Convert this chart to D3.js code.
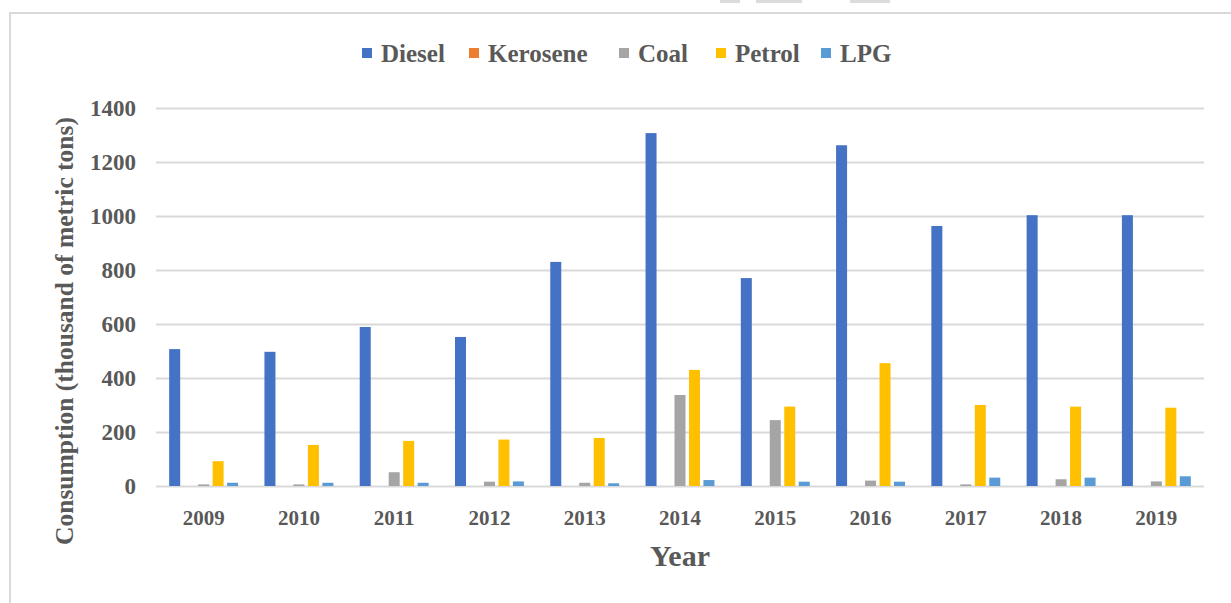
<!DOCTYPE html>
<html>
<head>
<meta charset="utf-8">
<script src="https://cdn.jsdelivr.net/npm/d3@7"></script>
<style>
  html, body { margin: 0; padding: 0; background: #ffffff; }
  svg { display: block; }
</style>
</head>
<body>
<svg id="chart" width="1231" height="603"></svg>
<script>
// Data
const years = ["2009", "2010", "2011", "2012", "2013", "2014", "2015", "2016", "2017", "2018", "2019"];
const seriesNames = ["Diesel", "Kerosene", "Coal", "Petrol", "LPG"];
const diesel = [507, 497, 589, 552, 830, 1307, 770, 1262, 963, 1003, 1003];
const kerosene = [0, 0, 0, 0, 0, 0, 0, 0, 0, 0, 0];
const coal = [6, 6, 51, 16, 12, 337, 244, 20, 6, 25, 17];
const petrol = [92, 152, 167, 172, 178, 430, 294, 455, 300, 294, 290];
const lpg = [12, 12, 12, 17, 10, 22, 16, 16, 31, 31, 36];
const yTicks = [0, 200, 400, 600, 800, 1000, 1200, 1400];

const values = [diesel, kerosene, coal, petrol, lpg];
const colors = ["#4472C4", "#ED7D31", "#A5A5A5", "#FFC000", "#5B9BD5"];

const svg = d3.select("#chart");
const font = "'Liberation Serif', 'Times New Roman', serif";
const textColor = "#595959";
const gridColor = "#d9d9d9";

// Рамка диаграммы (обрезанная)
svg.append("rect")
  .attr("x", 10).attr("y", 13)
  .attr("width", 1240).attr("height", 620)
  .attr("fill", "none")
  .attr("stroke", gridColor)
  .attr("stroke-width", 2);

// кусочки чего-то сверху скриншота
[[720, 20], [756, 46], [850, 40]].forEach(d => {
  svg.append("rect")
    .attr("x", d[0]).attr("y", 0)
    .attr("width", d[1]).attr("height", 3)
    .attr("fill", "#dcdcdc");
});

const plotLeft = 156, plotRight = 1204, plotTop = 108, plotBottom = 486;

// Scales
const x0 = d3.scaleBand()
  .domain(years)
  .range([plotLeft, plotRight])
  .paddingInner(0.24)
  .paddingOuter(0.12);

const x1 = d3.scaleBand()
  .domain(seriesNames)
  .range([0, x0.bandwidth()])
  .paddingInner(0.24)
  .paddingOuter(0.12);

const y = d3.scaleLinear()
  .domain([0, 1400])
  .range([plotBottom, plotTop]);

// Сетка + подписи оси Y
const yAxis = svg.append("g")
  .attr("transform", `translate(${plotLeft},0)`)
  .call(d3.axisLeft(y).tickValues(yTicks).tickSize(-(plotRight - plotLeft)).tickPadding(20).tickFormat(d3.format("d")));
yAxis.select(".domain").remove();
yAxis.selectAll("line")
  .attr("stroke", gridColor)
  .attr("stroke-width", 2);
yAxis.selectAll("text")
  .attr("font-family", font)
  .attr("font-weight", "bold")
  .attr("font-size", "23px")
  .attr("fill", textColor);

// Подписи оси X
const xAxis = svg.append("g")
  .attr("transform", `translate(0,${plotBottom})`)
  .call(d3.axisBottom(x0).tickSize(0).tickPadding(24));
xAxis.select(".domain").remove();
xAxis.selectAll("text")
  .attr("font-family", font)
  .attr("font-weight", "bold")
  .attr("font-size", "21px")
  .attr("fill", textColor);

// Столбцы
seriesNames.forEach((name, s) => {
  svg.append("g")
    .selectAll("rect")
    .data(values[s])
    .join("rect")
    .attr("x", (d, i) => x0(years[i]) + x1(name))
    .attr("y", d => y(d))
    .attr("width", x1.bandwidth())
    .attr("height", d => plotBottom - y(d))
    .attr("fill", colors[s]);
});

// Названия осей
svg.append("text")
  .attr("x", (plotLeft + plotRight) / 2)
  .attr("y", 566)
  .attr("font-family", font)
  .attr("font-weight", "bold")
  .attr("font-size", "30px")
  .attr("fill", textColor)
  .attr("text-anchor", "middle")
  .text("Year");

svg.append("text")
  .attr("transform", "translate(73,331) rotate(-90)")
  .attr("font-family", font)
  .attr("font-weight", "bold")
  .attr("font-size", "25.5px")
  .attr("fill", textColor)
  .attr("text-anchor", "middle")
  .text("Consumption (thousand of metric tons)");

// Легенда
const legendX = [362, 469, 619, 716, 821];
seriesNames.forEach((name, s) => {
  svg.append("rect")
    .attr("x", legendX[s]).attr("y", 48)
    .attr("width", 10).attr("height", 10)
    .attr("fill", colors[s]);
  svg.append("text")
    .attr("x", legendX[s] + 19).attr("y", 62)
    .attr("font-family", font)
    .attr("font-weight", "bold")
    .attr("font-size", "25px")
    .attr("fill", textColor)
    .text(name);
});
</script>
</body>
</html>
